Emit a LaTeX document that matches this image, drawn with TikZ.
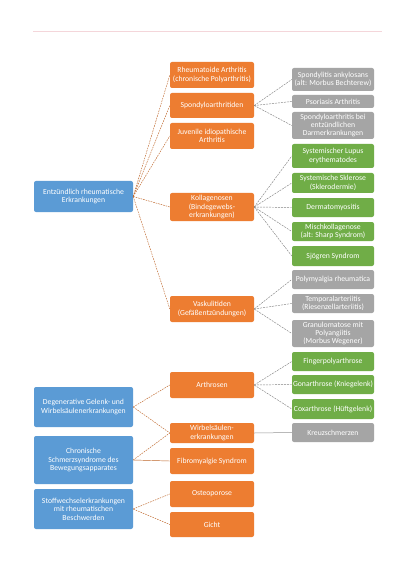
\documentclass[tikz,border=0pt]{standalone}
\usepackage{fontspec}
\setmainfont{Carlito}
\begin{document}
\begin{tikzpicture}[x=1pt,y=1pt,
  box/.style={rounded corners=2pt, text=white, align=center, inner xsep=0pt, inner ysep=0.5pt,
    font=\fontsize{7.7}{8.4}\selectfont},
  obox/.style={box, fill=OrangeC, minimum width=84pt},
  gbox/.style={box, fill=GrayC, minimum width=82pt},
  grbox/.style={box, fill=GreenC, minimum width=82pt},
  bbox/.style={box, fill=BlueC, minimum width=99pt},
  ocon/.style={draw=OrangeC!80!black, line width=0.45pt, dash pattern=on 1.6pt off 1pt},
  gcon/.style={draw=GrayC!80!black, line width=0.45pt, dash pattern=on 2pt off 1pt},
  ocons/.style={draw=OrangeC!80!black, line width=0.45pt},
  gcons/.style={draw=GrayC!90!black, line width=0.5pt}
]
\definecolor{OrangeC}{HTML}{ED7D31}
\definecolor{GrayC}{HTML}{A5A5A5}
\definecolor{GreenC}{HTML}{70AD47}
\definecolor{BlueC}{HTML}{5B9BD5}
\definecolor{RuleC}{HTML}{F4D6DA}
\fill[white] (0,0) rectangle (413,-585);
\useasboundingbox (0,0) rectangle (413,-585);
\coordinate (hl) at (33,-31);
\coordinate (hr) at (382,-31);
\draw[RuleC, line width=0.5pt] (hl) -- (hr);

% left (blue)
\node[bbox, minimum height=31pt] (ent) at (83.5,-196.5) {Entzündlich rheumatische\\Erkrankungen};
\node[bbox, minimum height=40pt] (deg) at (83.5,-407) {Degenerative Gelenk- und\\Wirbelsäulenerkrankungen};
\node[bbox, minimum height=48pt] (chr) at (83.5,-460) {Chronische\\Schmerzsyndrome des\\Bewegungsapparates};
\node[bbox, minimum height=40pt] (sto) at (83.5,-509) {Stoffwechselerkrankungen\\mit rheumatischen\\Beschwerden};

% middle (orange)
\node[obox, minimum height=26pt] (ra) at (212,-75) {Rheumatoide Arthritis\\(chronische Polyarthritis)};
\node[obox, minimum height=25pt] (spa) at (212,-105.5) {Spondyloarthritiden};
\node[obox, minimum height=26pt] (jia) at (212,-136) {Juvenile idiopathische\\Arthritis};
\node[obox, minimum height=28pt] (kol) at (212,-207) {Kollagenosen\\(Bindegewebs-\\erkrankungen)};
\node[obox, minimum height=26pt] (vas) at (212,-309) {Vaskulitiden\\(Gefäßentzündungen)};
\node[obox, minimum height=26pt] (arth) at (212,-385) {Arthrosen};
\node[obox, minimum height=20pt] (ws) at (212,-433) {Wirbelsäulen-\\erkrankungen};
\node[obox, minimum height=26pt] (fib) at (212,-461) {Fibromyalgie Syndrom};
\node[obox, minimum height=26pt] (ost) at (212,-494) {Osteoporose};
\node[obox, minimum height=25pt] (gic) at (212,-524.5) {Gicht};

% right
\node[gbox, minimum height=23pt] (sa) at (333,-79.5) {Spondylitis ankylosans\\(alt: Morbus Bechterew)};
\node[gbox, minimum height=13pt] (pso) at (333,-101.5) {Psoriasis Arthritis};
\node[gbox, minimum height=27pt] (sbe) at (333,-125.5) {Spondyloarthritis bei\\entzündlichen\\Darmerkrankungen};
\node[grbox, minimum height=24pt] (sle) at (333,-156) {Systemischer Lupus\\erythematodes};
\node[grbox, minimum height=20pt] (ssk) at (333,-183) {Systemische Sklerose\\(Sklerodermie)};
\node[grbox, minimum height=19pt] (der) at (333,-207.5) {Dermatomyositis};
\node[grbox, minimum height=19pt] (mis) at (333,-231.5) {Mischkollagenose\\(alt: Sharp Syndrom)};
\node[grbox, minimum height=20pt] (sjo) at (333,-256) {Sjögren Syndrom};
\node[gbox, minimum height=19pt] (pmr) at (333,-279.5) {Polymyalgia rheumatica};
\node[gbox, minimum height=19pt] (tem) at (333,-303.5) {Temporalarteriitis\\(Riesenzellarteriitis)};
\node[gbox, minimum height=27pt] (gra) at (333,-333.5) {Granulomatose mit\\Polyangiitis\\(Morbus Wegener)};
\node[grbox, minimum height=19pt] (fin) at (333,-361.5) {Fingerpolyarthrose};
\node[grbox, minimum height=19pt] (gon) at (333,-384.5) {Gonarthrose (Kniegelenk)};
\node[grbox, minimum height=20pt] (cox) at (333,-409) {Coxarthrose (Hüftgelenk)};
\node[gbox, minimum height=19pt] (kre) at (333,-432.5) {Kreuzschmerzen};

% connectors left -> middle
\foreach \c in {ra,spa,jia,kol,vas} \draw[ocon] (ent.east) -- (\c.west);
\foreach \c in {arth,ws} \draw[ocon] (deg.east) -- (\c.west);
\draw[ocon] (chr.east) -- (ws.west);
\draw[ocons] (chr.east) -- (fib.west);
\foreach \c in {ost,gic} \draw[ocon] (sto.east) -- (\c.west);

% connectors middle -> right
\foreach \c in {sa,pso,sbe} \draw[gcon] (spa.east) -- (\c.west);
\foreach \c in {sle,ssk,der,mis,sjo} \draw[gcon] (kol.east) -- (\c.west);
\foreach \c in {pmr,tem,gra} \draw[gcon] (vas.east) -- (\c.west);
\foreach \c in {fin,gon,cox} \draw[gcon] (arth.east) -- (\c.west);
\draw[gcons] (ws.east) -- (kre.west);
\end{tikzpicture}
\end{document}
